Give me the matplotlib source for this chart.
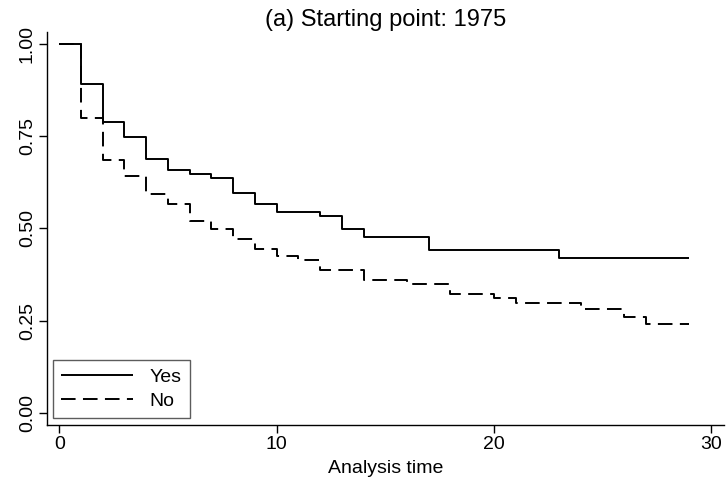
import matplotlib
matplotlib.use("Agg")
import matplotlib.pyplot as plt
import numpy as np

plt.rcParams['font.family'] = ['Liberation Sans', 'DejaVu Sans']

# Kaplan-Meier step data (time, survival)
yes_time = [0, 1, 2, 3, 4, 5, 6, 7, 8, 9, 10, 12, 13, 14, 17, 23, 29]
yes_surv = [1.0, 0.891, 0.789, 0.748, 0.689, 0.657, 0.647, 0.637, 0.596, 0.566,
            0.544, 0.534, 0.499, 0.477, 0.441, 0.421, 0.421]

no_time = [0, 1, 2, 3, 4, 5, 6, 7, 8, 9, 10, 11, 12, 14, 16, 18, 20, 21, 24, 26, 27, 29]
no_surv = [1.0, 0.800, 0.684, 0.641, 0.592, 0.567, 0.521, 0.498, 0.472, 0.445,
           0.425, 0.413, 0.386, 0.360, 0.350, 0.322, 0.312, 0.299, 0.281, 0.261,
           0.242, 0.242]

x_ticks = [0, 10, 20, 30]
y_ticks = [0.0, 0.25, 0.50, 0.75, 1.00]
y_ticklabels = ["0.00", "0.25", "0.50", "0.75", "1.00"]

W, H = 726, 488
fig = plt.figure(figsize=(W / 100, H / 100), dpi=100)
left, right, top, bottom = 47, 724, 32, 425
ax = fig.add_axes([left / W, 1 - bottom / H, (right - left) / W, (bottom - top) / H])

lw = 1.4
ax.plot(yes_time, yes_surv, drawstyle='steps-post', color='black', lw=lw,
        label='Yes', solid_capstyle='butt')
ax.plot(no_time, no_surv, drawstyle='steps-post', color='black', lw=lw,
        linestyle=(0, (7.5, 3.8)), label='No', dash_capstyle='butt')

ax.set_xlim(-0.566, 30.59)
ax.set_ylim(-0.0325, 1.0317)

ax.spines['top'].set_visible(False)
ax.spines['right'].set_visible(False)
ax.spines['left'].set_linewidth(1.0)
ax.spines['bottom'].set_linewidth(1.0)

fs = 14
ax.set_xticks(x_ticks)
ax.set_yticks(y_ticks)
ax.set_yticklabels(y_ticklabels, rotation=90, va='center')
ax.tick_params(axis='both', direction='out', length=5.5, width=1.0, labelsize=fs,
               colors='black', pad=2.5)

ax.set_xlabel('Analysis time', fontsize=fs, labelpad=5)
ax.set_title('(a) Starting point: 1975', fontsize=17, pad=4)

leg = ax.legend(loc='lower left', bbox_to_anchor=(6 / (right - left), 7 / (bottom - top)),
                frameon=True, fancybox=False, edgecolor='#333333', fontsize=fs,
                handlelength=3.7, handletextpad=0.85, borderpad=0.42, labelspacing=0.32,
                borderaxespad=0)
leg.get_frame().set_linewidth(1.0)

fig.savefig('out.png', dpi=100)
